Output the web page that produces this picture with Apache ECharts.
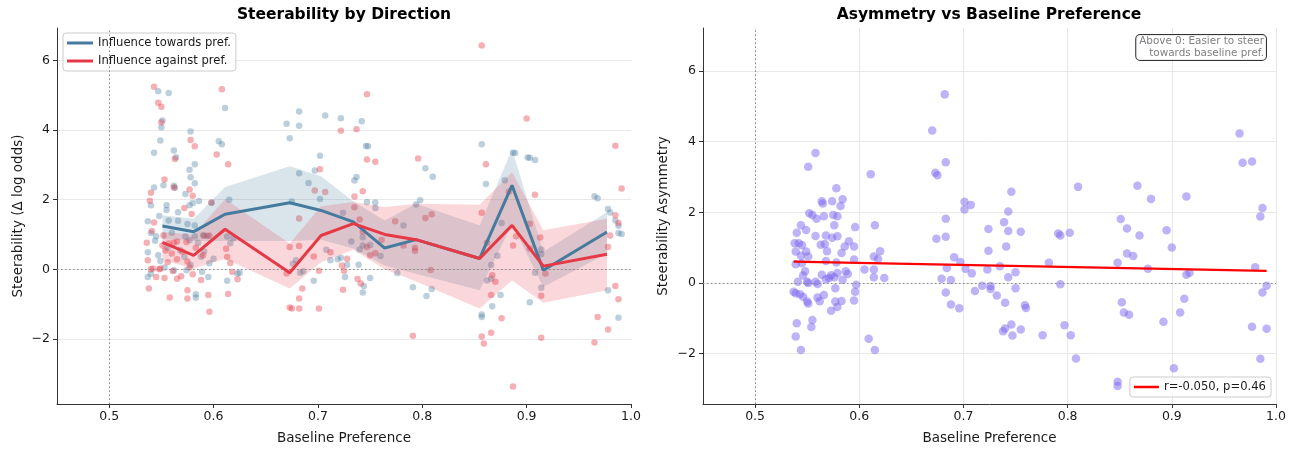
<!DOCTYPE html>
<html>
<head>
<meta charset="utf-8">
<title>Steerability</title>
<script src="https://cdn.jsdelivr.net/npm/echarts@6/dist/echarts.min.js"></script>
<style>
  html, body { margin: 0; padding: 0; background: #ffffff; }
  #chart { width: 1296px; height: 450px; }
</style>
</head>
<body>
<div id="chart"></div>
<script>
// ---- Left panel: binned means with confidence bands ----
const binX = [0.551, 0.581, 0.611, 0.673, 0.703, 0.734, 0.764, 0.794, 0.855, 0.886, 0.916, 0.977];
const towardsMean = [1.24, 1.08, 1.58, 1.91, 1.69, 1.36, 0.61, 0.85, 0.31, 2.41, -0.03, 1.07];
const towardsHi   = [1.55, 1.45, 2.36, 2.96, 2.67, 1.95, 1.40, 1.88, 1.26, 3.45, 0.50, 1.64];
const towardsLo   = [0.87, 0.81, 0.81, 0.81, 0.85, 0.60, 0.11, -0.13, -0.60, 1.30, -0.51, 0.45];
const againstMean = [0.77, 0.40, 1.15, -0.10, 0.97, 1.31, 1.00, 0.85, 0.31, 1.26, 0.09, 0.43];
const againstHi   = [1.07, 0.99, 2.02, 0.74, 1.81, 1.93, 1.79, 1.88, 1.85, 2.79, 1.12, 1.45];
const againstLo   = [0.26, 0.02, 0.30, -0.55, 0.20, 0.56, 0.00, -0.35, -1.13, -0.32, -0.96, -0.60];

// Per-item steerability, [baseline preference, delta log odds]
const towardsPts = [
  [0.547,5.11],[0.557,5.06],[0.551,4.27],[0.550,4.08],[0.549,3.70],[0.543,3.35],[0.611,4.63],[0.578,3.96],
  [0.562,3.41],[0.564,3.22],[0.605,3.68],[0.608,3.59],[0.577,2.86],[0.582,3.02],[0.578,2.64],[0.582,2.47],
  [0.543,2.35],[0.552,2.41],[0.563,2.34],[0.573,2.16],[0.540,1.84],[0.555,1.84],[0.566,1.64],[0.555,1.70],
  [0.548,1.53],[0.577,1.84],[0.580,1.90],[0.586,1.96],[0.537,1.38],[0.557,1.40],[0.566,1.39],[0.575,1.30],
  [0.582,1.26],[0.598,1.91],[0.615,2.00],[0.540,1.04],[0.544,0.82],[0.537,0.49],[0.547,0.40],[0.549,0.24],
  [0.556,0.61],[0.573,0.95],[0.577,0.83],[0.582,0.95],[0.590,0.98],[0.594,0.96],[0.585,0.76],[0.613,0.94],
  [0.619,0.89],[0.616,0.75],[0.588,0.36],[0.596,0.17],[0.589,-0.07],[0.595,-0.22],[0.537,-0.22],[0.540,-0.13],
  [0.562,-0.03],[0.572,0.36],[0.574,-0.03],[0.613,-0.33],[0.623,-0.12],[0.583,-0.72],[0.583,-0.82],[0.562,2.40],
  [0.545,0.95],[0.560,1.05],[0.568,0.55],[0.553,0.05],[0.578,0.12],[0.591,0.52],[0.600,0.30],[0.625,-0.10],
  [0.670,4.18],[0.682,4.53],[0.682,4.12],[0.673,3.76],[0.707,4.42],[0.722,4.34],[0.742,4.25],[0.702,3.26],
  [0.682,2.76],[0.697,2.84],[0.691,2.48],[0.702,2.02],[0.737,2.65],[0.735,2.55],[0.746,3.54],[0.748,3.53],
  [0.747,1.93],[0.755,1.92],[0.755,1.76],[0.675,1.95],[0.724,1.62],[0.732,0.80],[0.740,0.57],[0.743,0.92],
  [0.743,0.68],[0.750,0.70],[0.760,0.38],[0.776,-0.11],[0.739,0.13],[0.744,-0.48],[0.743,-0.67],[0.750,-0.25],
  [0.696,-0.33],[0.683,-0.10],[0.686,-0.06],[0.708,0.56],[0.712,0.26],[0.719,0.29],[0.722,0.33],[0.728,0.13],
  [0.726,-0.22],[0.676,0.16],[0.679,0.26],[0.803,2.90],[0.810,2.66],[0.798,1.98],[0.794,1.86],[0.782,1.26],
  [0.791,-0.52],[0.804,-0.77],[0.809,-0.57],[0.857,3.59],[0.861,2.45],[0.857,-1.30],[0.857,-1.37],[0.867,-1.06],
  [0.862,-0.32],[0.866,-0.27],[0.866,0.12],[0.872,0.39],[0.876,1.33],[0.879,2.56],[0.887,3.35],[0.889,3.34],
  [0.901,3.21],[0.903,3.20],[0.908,3.14],[0.875,-0.74],[0.903,-0.95],[0.908,-0.10],[0.914,0.57],[0.914,0.44],
  [0.914,-0.53],[0.965,2.10],[0.968,2.04],[0.978,1.73],[0.980,1.63],[0.985,1.40],[0.988,1.25],[0.988,1.04],
  [0.991,1.01],[0.978,-0.60],[0.988,-1.39]
];
const againstPts = [
  [0.543,5.24],[0.608,5.17],[0.547,4.78],[0.550,4.67],[0.550,4.22],[0.578,3.71],[0.582,3.53],[0.563,3.17],
  [0.603,3.30],[0.614,3.02],[0.553,2.58],[0.540,2.20],[0.539,1.97],[0.562,2.35],[0.577,2.29],[0.580,2.11],
  [0.543,1.34],[0.572,1.76],[0.598,1.92],[0.579,1.59],[0.552,0.97],[0.562,0.76],[0.557,0.75],[0.565,0.80],
  [0.574,0.78],[0.596,0.96],[0.591,0.96],[0.536,0.76],[0.541,1.10],[0.612,0.59],[0.613,0.35],[0.616,0.18],
  [0.554,0.54],[0.560,0.45],[0.537,0.26],[0.556,0.20],[0.565,0.29],[0.575,0.22],[0.577,0.05],[0.540,0.00],
  [0.542,0.02],[0.549,0.02],[0.545,-0.22],[0.553,-0.25],[0.565,-0.27],[0.569,-0.20],[0.580,-0.14],[0.588,-0.31],
  [0.538,-0.55],[0.558,-0.81],[0.575,-0.60],[0.575,-0.84],[0.595,-0.74],[0.596,-1.22],[0.614,-0.71],[0.618,-0.08],
  [0.623,-0.29],[0.548,0.00],[0.551,0.68],[0.583,0.62],[0.590,0.40],[0.561,-0.05],[0.570,0.50],
  [0.857,6.43],[0.747,5.03],[0.722,3.98],[0.737,4.02],[0.747,3.15],[0.755,3.09],[0.702,2.87],[0.796,3.18],
  [0.900,4.33],[0.861,3.02],[0.985,3.55],[0.991,2.32],[0.908,2.14],[0.883,2.23],[0.857,1.62],[0.697,2.26],
  [0.707,2.22],[0.682,1.46],[0.743,2.24],[0.735,2.09],[0.735,1.78],[0.740,1.43],[0.743,1.08],[0.747,0.64],
  [0.774,1.38],[0.809,1.58],[0.803,1.47],[0.793,0.62],[0.793,0.53],[0.782,0.68],[0.808,-0.02],[0.761,0.84],
  [0.755,0.46],[0.750,0.40],[0.723,0.11],[0.728,0.30],[0.725,-0.04],[0.724,-0.59],[0.738,-0.28],[0.741,-0.41],
  [0.696,0.37],[0.701,-0.04],[0.712,0.49],[0.673,0.64],[0.682,0.67],[0.685,-0.55],[0.682,-0.84],[0.675,-1.13],
  [0.673,-1.10],[0.682,-1.13],[0.701,-1.13],[0.670,-0.12],[0.791,-1.91],[0.862,0.76],[0.867,-0.17],[0.866,-0.74],
  [0.870,-0.36],[0.876,-1.41],[0.857,-1.93],[0.859,-2.13],[0.866,-1.82],[0.887,-3.37],[0.887,0.68],[0.890,0.95],
  [0.903,1.31],[0.903,0.60],[0.913,0.91],[0.914,-0.76],[0.914,-1.97],[0.918,-0.12],[0.978,0.64],[0.980,0.97],
  [0.988,1.33],[0.985,-0.48],[0.988,-0.86],[0.968,-1.37],[0.965,-2.10],[0.978,-1.73],[0.985,1.55]
];

// ---- Right panel: asymmetry (towards minus against) per item ----
const asymPts = [
  [0.558,3.68],[0.551,3.29],[0.578,2.68],[0.564,2.31],[0.565,2.25],[0.574,2.31],[0.584,2.37],[0.582,2.18],
  [0.552,1.97],[0.555,1.92],[0.559,1.82],[0.566,1.89],[0.575,1.92],[0.579,1.89],[0.576,1.63],[0.596,1.58],
  [0.544,1.63],[0.549,1.50],[0.540,1.42],[0.538,1.12],[0.542,1.12],[0.545,1.07],[0.558,1.33],[0.568,1.34],
  [0.574,1.28],[0.579,1.32],[0.590,1.18],[0.563,1.08],[0.567,1.10],[0.586,1.03],[0.595,1.03],[0.539,0.89],
  [0.549,0.89],[0.544,0.77],[0.551,0.75],[0.569,0.90],[0.583,0.85],[0.539,0.53],[0.545,0.56],[0.568,0.62],
  [0.578,0.58],[0.595,0.66],[0.620,0.90],[0.614,0.75],[0.618,0.68],[0.614,0.38],[0.605,0.38],[0.614,0.16],
  [0.624,0.14],[0.548,0.33],[0.546,0.21],[0.564,0.23],[0.573,0.22],[0.579,0.28],[0.587,0.33],[0.589,0.25],
  [0.571,0.14],[0.568,0.10],[0.576,0.16],[0.584,0.09],[0.541,0.03],[0.550,0.03],[0.551,0.00],[0.558,0.03],
  [0.560,-0.03],[0.597,-0.05],[0.537,-0.25],[0.539,-0.29],[0.543,-0.32],[0.596,-0.25],[0.546,-0.39],[0.550,-0.53],
  [0.551,-0.58],[0.560,-0.41],[0.562,-0.52],[0.566,-0.34],[0.577,-0.15],[0.577,-0.53],[0.583,-0.51],[0.579,-0.68],
  [0.573,-0.79],[0.595,-0.50],[0.540,-1.14],[0.555,-1.05],[0.554,-1.25],[0.539,-1.52],[0.544,-1.90],[0.611,3.08],
  [0.615,1.63],[0.609,-1.58],[0.615,-1.90],
  [0.670,4.32],[0.682,5.34],[0.683,3.42],[0.673,3.12],[0.675,3.05],[0.683,1.82],[0.674,1.25],[0.683,1.31],
  [0.691,0.73],[0.697,0.59],[0.684,0.42],[0.679,0.12],[0.688,0.08],[0.683,-0.27],[0.688,-0.61],[0.696,-0.72],
  [0.701,2.30],[0.707,2.21],[0.701,2.08],[0.702,0.40],[0.708,0.27],[0.711,-0.23],[0.718,-0.08],[0.724,1.53],
  [0.724,0.91],[0.723,0.38],[0.726,-0.09],[0.726,-0.17],[0.732,-0.36],[0.735,0.47],[0.739,1.72],[0.743,2.02],
  [0.746,2.58],[0.743,1.47],[0.741,1.03],[0.755,1.45],[0.750,0.30],[0.743,0.16],[0.750,-0.15],[0.740,-0.56],
  [0.738,-1.37],[0.740,-1.29],[0.746,-1.18],[0.747,-1.49],[0.755,-1.32],[0.759,-0.63],[0.760,-0.71],[0.776,-1.48],
  [0.782,0.57],[0.791,1.40],[0.793,1.34],[0.802,1.42],[0.793,-0.04],[0.797,-1.20],[0.803,-1.48],[0.810,2.72],
  [0.808,-2.14],[0.848,0.57],[0.851,1.81],[0.857,1.54],[0.857,0.83],[0.863,0.76],[0.867,2.75],[0.869,1.34],
  [0.877,0.40],[0.880,2.38],[0.852,-0.55],[0.854,-0.84],[0.859,-0.90],[0.848,-2.80],[0.848,-2.92],[0.895,1.49],
  [0.900,1.00],[0.892,-1.10],[0.902,-2.42],[0.908,-0.84],[0.912,-0.45],[0.914,2.45],[0.914,0.23],[0.917,0.29],
  [0.965,4.23],[0.968,3.40],[0.977,3.44],[0.987,2.12],[0.985,1.88],[0.980,0.44],[0.991,-0.08],[0.987,-0.27],
  [0.977,-1.24],[0.991,-1.30],[0.985,-2.15],[0.878,6.75]
];
// Least-squares fit endpoints
const fitX = [0.537, 0.991];
const fitY = [0.60, 0.34];
const fitLabel = 'r=-0.050, p=0.46';

// Axis ticks
const xTicks = [0.5, 0.6, 0.7, 0.8, 0.9, 1.0];
const yTicks = [-2, 0, 2, 4, 6];

const BLUE = '#457b9d';
const RED = '#e63946';
const PURPLE = '#7b68ee';
const FONT = 'DejaVu Sans';
const INK = '#1a1a1a';

const chart = echarts.init(document.getElementById('chart'), null, { renderer: 'canvas' });

function fmtX(v) { return v.toFixed(1); }
function fmtY(v) { return (v < 0 ? '\u2212' : '') + Math.abs(v); }

function makeXAxis(gridIndex, vGrid) {
  return {
    type: 'value', gridIndex: gridIndex, min: 0.45, max: 1.0,
    name: 'Baseline Preference', nameLocation: 'middle', nameGap: 27,
    nameTextStyle: { fontFamily: FONT, fontSize: 13.5, color: INK },
    axisLine: { show: true, onZero: false, lineStyle: { color: '#333', width: 1 } },
    axisTick: { show: true, length: 4, inside: false, customValues: xTicks, lineStyle: { color: '#333' } },
    axisLabel: { customValues: xTicks, formatter: fmtX, fontFamily: FONT, fontSize: 12.5, color: INK, margin: 6 },
    splitLine: { show: vGrid, lineStyle: { color: '#e8e8e8', width: 1 } }
  };
}
function makeYAxis(gridIndex, min, max, name, gap) {
  return {
    type: 'value', gridIndex: gridIndex, min: min, max: max,
    name: name, nameLocation: 'middle', nameGap: gap,
    nameTextStyle: { fontFamily: FONT, fontSize: 13.5, color: INK },
    axisLine: { show: true, onZero: false, lineStyle: { color: '#333', width: 1 } },
    axisTick: { show: true, length: 4, customValues: yTicks, lineStyle: { color: '#333' } },
    axisLabel: { customValues: yTicks, formatter: fmtY, fontFamily: FONT, fontSize: 12.5, color: INK, margin: 7 },
    splitLine: { show: true, lineStyle: { color: '#e8e8e8', width: 1 } }
  };
}

// Shaded band between lower and upper bounds, drawn as one polygon
function bandSeries(lo, hi, color) {
  return {
    type: 'custom', xAxisIndex: 0, yAxisIndex: 0, z: 3, silent: true,
    data: binX.map((x, i) => [x, lo[i], hi[i]]),
    encode: { x: 0, y: [1, 2] },
    renderItem: function (params, api) {
      if (params.dataIndex !== 0) return null;
      const pts = [];
      for (let i = 0; i < binX.length; i++) pts.push(api.coord([binX[i], hi[i]]));
      for (let i = binX.length - 1; i >= 0; i--) pts.push(api.coord([binX[i], lo[i]]));
      return { type: 'polygon', shape: { points: pts }, style: { fill: color, opacity: 0.2 } };
    }
  };
}

const refLines = {
  silent: true, symbol: 'none', animation: false,
  label: { show: false },
  lineStyle: { type: [1.5, 2.5], color: '#888', width: 1 },
  data: [{ xAxis: 0.5 }, { yAxis: 0 }]
};

const option = {
  animation: false,
  backgroundColor: '#ffffff',
  textStyle: { fontFamily: FONT },
  grid: [
    { left: 57, right: 665, top: 28, bottom: 46, containLabel: false },
    { left: 703, right: 20, top: 28, bottom: 46, containLabel: false }
  ],
  xAxis: [makeXAxis(0, false), makeXAxis(1, true)],
  yAxis: [
    makeYAxis(0, -3.87, 6.93, 'Steerability (\u0394 log odds)', 32),
    makeYAxis(1, -3.43, 7.22, 'Steerability Asymmetry', 33)
  ],
  legend: [
    {
      left: 63, top: 33, orient: 'vertical', icon: 'rect',
      itemWidth: 26, itemHeight: 3, itemGap: 4, itemTextGap: 8,
      padding: [3, 5, 3, 4],
      backgroundColor: 'rgba(255,255,255,0.85)', borderColor: '#cccccc', borderWidth: 1, borderRadius: 3,
      textStyle: { fontFamily: FONT, fontSize: 11.6, color: INK, lineHeight: 14 },
      data: ['Influence towards pref.', 'Influence against pref.']
    },
    {
      right: 25, top: 377, orient: 'vertical', icon: 'rect',
      itemWidth: 25, itemHeight: 2.5, itemTextGap: 8,
      padding: [3, 5, 3, 4],
      backgroundColor: 'rgba(255,255,255,0.85)', borderColor: '#cccccc', borderWidth: 1, borderRadius: 3,
      textStyle: { fontFamily: FONT, fontSize: 11.6, color: INK, lineHeight: 14 },
      data: [fitLabel]
    }
  ],
  graphic: [
    { type: 'text', x: 344, y: 15, style: { text: 'Steerability by Direction', fill: '#000', fontFamily: FONT, fontWeight: 'bold', fontSize: 15.5, textAlign: 'center', textVerticalAlign: 'middle' } },
    { type: 'text', x: 989, y: 15, style: { text: 'Asymmetry vs Baseline Preference', fill: '#000', fontFamily: FONT, fontWeight: 'bold', fontSize: 15.5, textAlign: 'center', textVerticalAlign: 'middle' } },
    {
      type: 'text', x: 1266, y: 35, z: 100,
      style: {
        text: 'Above 0: Easier to steer\ntowards baseline pref.',
        fill: '#808080', fontFamily: FONT, fontSize: 10.4, textAlign: 'right', textVerticalAlign: 'top',
        lineHeight: 11.5,
        backgroundColor: 'rgba(255,255,255,0.9)', borderColor: '#333', borderWidth: 1, borderRadius: 4,
        padding: [1, 2, 1, 3]
      }
    }
  ],
  series: [
    {
      type: 'scatter', xAxisIndex: 0, yAxisIndex: 0, z: 2, silent: true,
      symbolSize: 6.5, data: towardsPts,
      itemStyle: { color: BLUE, opacity: 0.36 },
      markLine: refLines
    },
    {
      type: 'scatter', xAxisIndex: 0, yAxisIndex: 0, z: 2, silent: true,
      symbolSize: 6.5, data: againstPts,
      itemStyle: { color: RED, opacity: 0.4 }
    },
    bandSeries(towardsLo, towardsHi, BLUE),
    bandSeries(againstLo, againstHi, RED),
    {
      name: 'Influence towards pref.', type: 'line', xAxisIndex: 0, yAxisIndex: 0, z: 5,
      data: binX.map((x, i) => [x, towardsMean[i]]), symbol: 'none',
      lineStyle: { color: BLUE, width: 3 }, itemStyle: { color: BLUE }
    },
    {
      name: 'Influence against pref.', type: 'line', xAxisIndex: 0, yAxisIndex: 0, z: 6,
      data: binX.map((x, i) => [x, againstMean[i]]), symbol: 'none',
      lineStyle: { color: RED, width: 3 }, itemStyle: { color: RED }
    },
    {
      type: 'scatter', xAxisIndex: 1, yAxisIndex: 1, z: 2, silent: true,
      symbolSize: 8.5, data: asymPts,
      itemStyle: { color: PURPLE, opacity: 0.5 },
      markLine: refLines
    },
    {
      name: fitLabel, type: 'line', xAxisIndex: 1, yAxisIndex: 1, z: 5,
      data: fitX.map((x, i) => [x, fitY[i]]), symbol: 'none',
      lineStyle: { color: '#ff0000', width: 2.2 }, itemStyle: { color: '#ff0000' }
    }
  ]
};

chart.setOption(option);
</script>
</body>
</html>
